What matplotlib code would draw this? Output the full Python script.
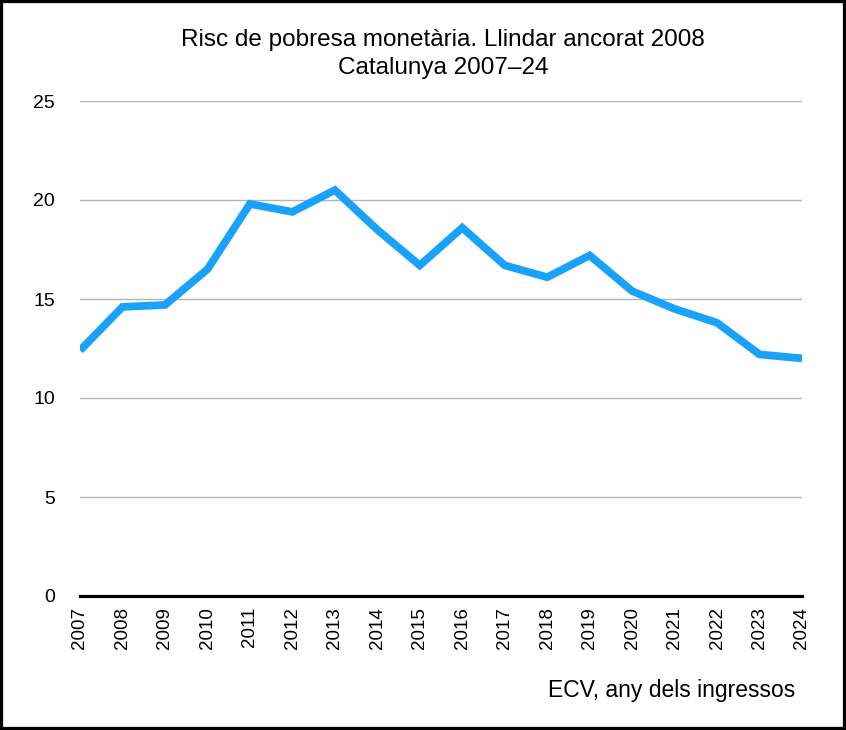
import matplotlib.pyplot as plt
from matplotlib.patches import Rectangle

# Risc de pobresa, llindar ancorat 2008 (Catalunya)
years = list(range(2007, 2025))
values = [12.4, 14.6, 14.7, 16.5, 19.8, 19.4, 20.5, 18.5, 16.7, 18.6,
          16.7, 16.1, 17.2, 15.4, 14.5, 13.8, 12.2, 12.0]
y_ticks = [0, 5, 10, 15, 20, 25]

plt.rcParams['font.family'] = ['Liberation Sans', 'DejaVu Sans']

fig = plt.figure(figsize=(8.46, 7.30), dpi=100)
ax = fig.add_axes([80 / 846, 134 / 730, 722 / 846, 495 / 730])

ax.plot(years, values, color='#18a2fa', linewidth=5.6, solid_joinstyle='miter',
        solid_capstyle='butt', zorder=3)

ax.set_xlim(2007, 2024)
ax.set_ylim(0, 25)
ax.set_yticks(y_ticks)
ax.set_xticks(years)
ax.set_xticklabels([str(y) for y in years], rotation=90, fontsize=13.5)
ax.tick_params(axis='y', length=0, pad=18, labelsize=14)
ax.tick_params(axis='x', length=0, pad=8)

ax.grid(axis='y', color='#b4b4b4', linewidth=1)
ax.set_axisbelow(True)
for s in ['top', 'right', 'left']:
    ax.spines[s].set_visible(False)
ax.spines['bottom'].set_linewidth(2.3)
ax.spines['bottom'].set_color('black')
ax.spines['bottom'].set_zorder(4)

fig.text(443 / 846, 1 - 40 / 730, 'Risc de pobresa monetària. Llindar ancorat 2008',
         ha='center', va='center', fontsize=17.5)
fig.text(443 / 846, 1 - 68 / 730, 'Catalunya 2007–24',
         ha='center', va='center', fontsize=17.5)
fig.text(795 / 846, 1 - 690 / 730, 'ECV, any dels ingressos',
         ha='right', va='center', fontsize=16.5)

# marc negre al voltant de la figura
fig.patches.append(Rectangle((0, 0), 1, 1, transform=fig.transFigure,
                             fill=False, edgecolor='black', linewidth=4.5))

fig.savefig('out.png', dpi=100)
